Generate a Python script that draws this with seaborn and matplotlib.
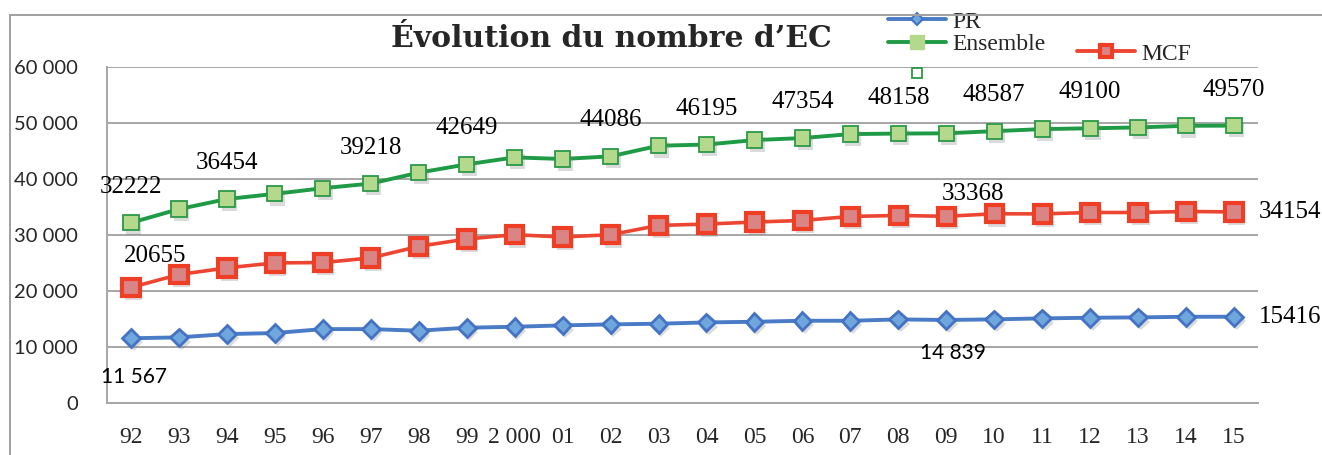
import numpy as np
import pandas as pd
import matplotlib
matplotlib.use("Agg")
import matplotlib.pyplot as plt
import matplotlib.patheffects as pe
import seaborn as sns
from matplotlib.lines import Line2D
from matplotlib.patches import Rectangle
from matplotlib.ticker import FuncFormatter

# ---- data -------------------------------------------------------------
years = ["92", "93", "94", "95", "96", "97", "98", "99", "2 000", "01", "02",
         "03", "04", "05", "06", "07", "08", "09", "10", "11", "12", "13",
         "14", "15"]

pr = [11567, 11730, 12320, 12500, 13210, 13210, 12920, 13450, 13630, 13870,
      14050, 14170, 14400, 14520, 14700, 14700, 14940, 14839, 14950, 15120,
      15240, 15300, 15410, 15416]

ensemble = [32222, 34650, 36454, 37380, 38390, 39218, 41170, 42649, 43900,
            43610, 44086, 45980, 46195, 46990, 47354, 48060, 48158, 48200,
            48587, 48950, 49100, 49250, 49550, 49570]

mcf = [20655, 22960, 24150, 25040, 25100, 25930, 28000, 29310, 30080, 29670,
       30080, 31740, 31980, 32340, 32630, 33340, 33520, 33368, 33820, 33800,
       34050, 34050, 34230, 34154]

# indices of the green points that carry a value label
ens_labelled = [0, 2, 5, 7, 10, 12, 14, 16, 18, 20, 23]

# ---- style ------------------------------------------------------------
sns.set_style("white")
plt.rcParams["font.family"] = ["Liberation Serif", "DejaVu Serif"]

GRID = "#a6a6a6"
GREEN_LINE, GREEN_FACE, GREEN_EDGE = "#1f9a45", "#b4d98c", "#2a9a47"
RED_LINE, RED_FACE, RED_EDGE = "#ec4632", "#d98585", "#ee3f26"
BLUE_LINE, BLUE_FACE, BLUE_EDGE = "#4a7bc6", "#6fa6dc", "#4472c4"

W, H = 1322, 455
fig = plt.figure(figsize=(W / 100, H / 100), dpi=100)
fig.patch.set_facecolor("white")
ax = fig.add_axes([107 / W, 1 - 403 / H, (1258 - 107) / W, (403 - 67.3) / H])

df = pd.DataFrame({"pos": np.arange(len(years)), "annee": years,
                   "PR": pr, "Ensemble": ensemble, "MCF": mcf})

shadow = [pe.SimplePatchShadow(offset=(2, -3), shadow_rgbFace="#808080", alpha=0.28),
          pe.Normal()]

series = [
    ("PR", BLUE_LINE, 2.8, dict(marker="D", markersize=9, markerfacecolor=BLUE_FACE,
                               markeredgecolor=BLUE_EDGE, markeredgewidth=2.0)),
    ("Ensemble", GREEN_LINE, 2.8, dict(marker="s", markersize=11, markerfacecolor=GREEN_FACE,
                                      markeredgecolor=GREEN_EDGE, markeredgewidth=1.3)),
    ("MCF", RED_LINE, 2.6, dict(marker="s", markersize=12.5, markerfacecolor=RED_FACE,
                               markeredgecolor=RED_EDGE, markeredgewidth=3.0)),
]
for name, lc, lw, mk in series:
    # connecting line
    sns.lineplot(data=df, x="pos", y=name, ax=ax, color=lc, linewidth=lw,
                 errorbar=None, legend=False, zorder=3)
    # markers with a soft drop shadow
    sns.lineplot(data=df, x="pos", y=name, ax=ax, color=lc, linestyle="none",
                 errorbar=None, legend=False, zorder=4, path_effects=shadow, **mk)

# ---- axes -------------------------------------------------------------
ax.set_xlim(-0.5, len(years) - 0.5)
ax.set_ylim(0, 60000)
ax.set_yticks(np.arange(0, 60001, 10000))
ax.yaxis.set_major_formatter(FuncFormatter(lambda v, _: f"{v:,.0f}".replace(",", " ")))
ax.set_xticks(df["pos"])
ax.set_xticklabels(years)
ax.set_xticks(np.arange(-0.5, len(years), 1), minor=True)
ax.set_xlabel("")
ax.set_ylabel("")

ax.yaxis.grid(True, color=GRID, linewidth=1.4)
ax.xaxis.grid(False)
ax.set_axisbelow(True)
for side in ("top", "right"):
    ax.spines[side].set_visible(False)
for side in ("left", "bottom"):
    ax.spines[side].set_color(GRID)
    ax.spines[side].set_linewidth(1.4)

ax.tick_params(axis="x", which="major", length=0, pad=17, labelsize=17)
ax.tick_params(axis="x", which="minor", length=7, width=1.4, color=GRID)
ax.tick_params(axis="y", length=7, width=1.4, color=GRID, pad=14)
for lab in ax.get_yticklabels():
    lab.set_fontfamily("Lato")
    lab.set_fontsize(14.5)

# ---- value labels -----------------------------------------------------
def label(i, values, text, dx, dy, family="Liberation Serif", size=18):
    ax.annotate(text, xy=(i, values[i]), xytext=(dx, dy),
                textcoords="offset pixels", ha="center", va="center",
                fontsize=size, family=family, color="black", zorder=5)

for i in ens_labelled:
    label(i, ensemble, f"{ensemble[i]}", 0, 36)

label(0, mcf, f"{mcf[0]}", 24, 31)
label(17, mcf, f"{mcf[17]}", 27, 22)
label(23, mcf, f"{mcf[23]}", 56, 0)

sp = lambda v: f"{v:,}".replace(",", " ")
label(0, pr, sp(pr[0]), 3, -39, family="Lato", size=15)
label(17, pr, sp(pr[17]), 7, -33, family="Lato", size=15)
label(23, pr, f"{pr[23]}", 56, 0)

# ---- title ------------------------------------------------------------
fig.text(611 / W, 1 - 47 / H, "Évolution du nombre d’EC", ha="center",
         va="baseline", fontsize=21.5, fontweight="bold", family="DejaVu Serif")

# ---- legend -----------------------------------------------------------
h_pr = Line2D([], [], color=BLUE_LINE, linewidth=2.8, marker="D", markersize=6,
              markerfacecolor=BLUE_FACE, markeredgecolor=BLUE_EDGE, markeredgewidth=1.5)
h_ens = Line2D([], [], color=GREEN_LINE, linewidth=2.8, marker="s", markersize=10,
               markerfacecolor=GREEN_FACE, markeredgecolor=GREEN_FACE)
h_empty = Line2D([], [], linestyle="none", marker="s", markersize=7.5,
                 markerfacecolor="white", markeredgecolor=GREEN_EDGE, markeredgewidth=1.3)
h_mcf = Line2D([], [], color=RED_LINE, linewidth=2.8, marker="s", markersize=9,
               markerfacecolor=RED_FACE, markeredgecolor=RED_EDGE, markeredgewidth=3.0)

leg_kw = dict(frameon=False, loc="upper left", borderpad=0, borderaxespad=0,
              handlelength=2.45, handletextpad=0.28, labelspacing=0.05,
              prop={"family": "Liberation Serif", "size": 17})
leg1 = fig.legend([h_pr, h_ens], ["PR", "Ensemble"],
                  bbox_to_anchor=(888 / W, 1 - 11 / H), **leg_kw)
leg3 = fig.legend([h_empty], [""], bbox_to_anchor=(888 / W, 1 - 65 / H), **leg_kw)
leg2 = fig.legend([h_mcf], ["MCF"], bbox_to_anchor=(1077 / W, 1 - 43 / H), **leg_kw)
for lg in (leg1, leg2, leg3):
    lg.set_zorder(4)

# ---- outer frame (left and top edges) ---------------------------------
frame = Rectangle((10 / W, -0.1), 1.2, (1 - 15 / H) + 0.1, transform=fig.transFigure,
                  fill=False, edgecolor="#a0a0a0", linewidth=1.4, zorder=6)
fig.add_artist(frame)

fig.savefig("out.png", dpi=100, facecolor="white")
